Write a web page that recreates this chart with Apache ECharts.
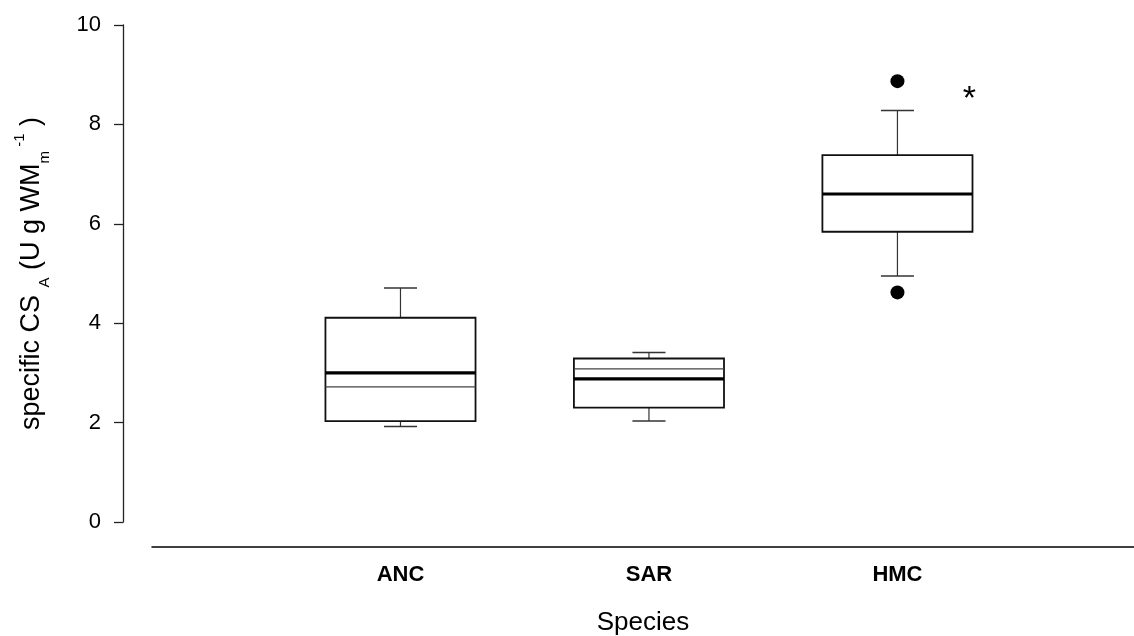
<!DOCTYPE html>
<html>
<head>
<meta charset="utf-8">
<script src="https://cdn.jsdelivr.net/npm/echarts@6/dist/echarts.min.js"></script>
<style>
html,body{margin:0;padding:0;background:#fff;}
#chart{width:1134px;height:636px;}
</style>
</head>
<body>
<div id="chart"></div>
<script>
// ---- data ----
const categories = ['ANC', 'SAR', 'HMC'];
const whiskerLow  = [1.92, 2.03, 4.95];
const quartile1   = [2.03, 2.30, 5.84];
const median      = [3.00, 2.88, 6.60];
const mean        = [2.72, 3.08, 6.60];
const quartile3   = [4.11, 3.29, 7.38];
const whiskerHigh = [4.71, 3.41, 8.28];
const outlierCategory = ['HMC', 'HMC'];
const outlierValue    = [8.87, 4.62];
const significanceCategory = ['HMC'];
const significanceValue    = [8.60];
const significanceMark     = ['*'];
const yTicks = [0, 2, 4, 6, 8, 10];

// ---- style constants ----
const FONT = 'Liberation Sans, Arial, sans-serif';
const BOX_WIDTH = 0.604;   // in category units
const CAP_WIDTH = 0.133;

const catIndex = c => categories.indexOf(c) + 1;

const boxData = categories.map((c, i) => [i + 1, whiskerLow[i], quartile1[i], median[i], quartile3[i], whiskerHigh[i], mean[i]]);
const outlierData = outlierCategory.map((c, i) => [catIndex(c), outlierValue[i]]);
const sigData = significanceCategory.map((c, i) => ({ value: [catIndex(c), significanceValue[i]], mark: significanceMark[i] }));

const chart = echarts.init(document.getElementById('chart'), null, { renderer: 'canvas' });

chart.setOption({
  animation: false,
  backgroundColor: '#fff',
  grid: { left: 152, right: 0, top: 25, bottom: 114, containLabel: false, outerBoundsMode: 'none' },
  xAxis: {
    type: 'value',
    min: 0,
    max: 3.952,
    interval: 1,
    offset: 25,
    axisLine: { show: true, onZero: false, lineStyle: { color: '#000', width: 1.5 } },
    axisTick: { show: false },
    splitLine: { show: false },
    axisLabel: {
      margin: 17,
      fontFamily: FONT,
      fontSize: 22,
      fontWeight: 'bold',
      color: '#000',
      showMaxLabel: false,
      formatter: v => (Number.isInteger(v) && categories[v - 1]) ? categories[v - 1] : ''
    },
    name: 'Species',
    nameLocation: 'middle',
    nameGap: 63,
    nameTextStyle: { fontFamily: FONT, fontSize: 26, color: '#000' }
  },
  yAxis: {
    type: 'value',
    min: yTicks[0],
    max: yTicks[yTicks.length - 1],
    interval: yTicks[1] - yTicks[0],
    offset: 29,
    axisLine: { show: true, onZero: false, lineStyle: { color: '#222', width: 1.3 } },
    axisTick: { show: true, length: 9, inside: false, lineStyle: { color: '#222', width: 1.3 } },
    splitLine: { show: false },
    axisLabel: { margin: 22, fontFamily: FONT, fontSize: 22, color: '#000' },
    name: '{m|specific CS }{sub|A}{m| (U g WM}{sub|m}{sup| -1}{m| )}',
    nameLocation: 'middle',
    nameRotate: 90,
    nameGap: 71,
    nameTextStyle: {
      fontFamily: FONT,
      color: '#000',
      rich: {
        m:   { fontFamily: FONT, fontSize: 27, lineHeight: 40, color: '#000', verticalAlign: 'middle' },
        sub: { fontFamily: FONT, fontSize: 15, lineHeight: 15, color: '#000', verticalAlign: 'bottom' },
        sup: { fontFamily: FONT, fontSize: 15, lineHeight: 15, color: '#000', verticalAlign: 'top' }
      }
    }
  },
  series: [
    {
      type: 'custom',
      data: boxData,
      encode: { x: 0, y: [1, 2, 3, 4, 5, 6] },
      renderItem: function (params, api) {
        const x = api.value(0);
        const lo = api.coord([x, api.value(1)]);
        const b1 = api.coord([x, api.value(2)]);
        const md = api.coord([x, api.value(3)]);
        const b3 = api.coord([x, api.value(4)]);
        const hi = api.coord([x, api.value(5)]);
        const mn = api.coord([x, api.value(6)]);
        const half = api.size([BOX_WIDTH, 0])[0] / 2;
        const capHalf = api.size([CAP_WIDTH, 0])[0] / 2;
        const cx = lo[0];
        const thin = { stroke: '#333', lineWidth: 1.2, fill: null };
        return {
          type: 'group',
          children: [
            { type: 'line', shape: { x1: cx, y1: hi[1], x2: cx, y2: b3[1] }, style: thin },
            { type: 'line', shape: { x1: cx, y1: b1[1], x2: cx, y2: lo[1] }, style: thin },
            { type: 'line', shape: { x1: cx - capHalf, y1: hi[1], x2: cx + capHalf, y2: hi[1] }, style: { stroke: '#333', lineWidth: 1.5 } },
            { type: 'line', shape: { x1: cx - capHalf, y1: lo[1], x2: cx + capHalf, y2: lo[1] }, style: { stroke: '#333', lineWidth: 1.5 } },
            { type: 'rect', shape: { x: cx - half, y: b3[1], width: 2 * half, height: b1[1] - b3[1] }, style: { fill: '#fff', stroke: '#111', lineWidth: 1.8 } },
            { type: 'line', shape: { x1: cx - half, y1: mn[1], x2: cx + half, y2: mn[1] }, style: { stroke: '#444', lineWidth: 1.2 } },
            { type: 'line', shape: { x1: cx - half, y1: md[1], x2: cx + half, y2: md[1] }, style: { stroke: '#000', lineWidth: 3.2 } }
          ]
        };
      },
      z: 2
    },
    {
      type: 'scatter',
      data: outlierData,
      symbol: 'circle',
      symbolSize: 14,
      itemStyle: { color: '#000', opacity: 1 },
      z: 3
    },
    {
      type: 'scatter',
      data: sigData,
      symbolSize: 0,
      itemStyle: { opacity: 1 },
      label: {
        show: true,
        position: 'inside',
        offset: [72, 5],
        formatter: p => p.data.mark,
        fontFamily: FONT,
        fontSize: 34,
        color: '#000'
      },
      z: 3
    }
  ]
});
</script>
</body>
</html>
